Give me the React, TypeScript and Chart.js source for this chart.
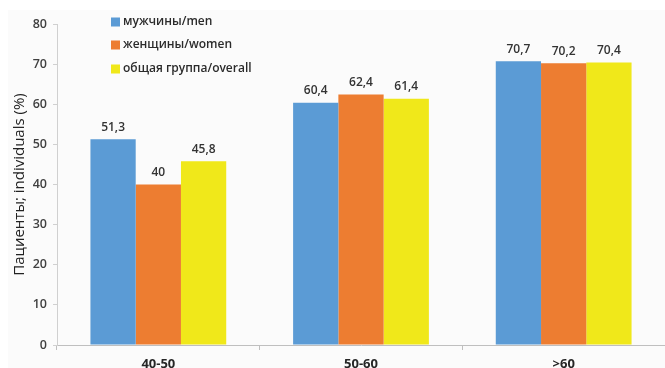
import React, { useEffect, useRef } from "react";
import { Chart, registerables } from "chart.js";

Chart.register(...registerables);

const categories = ["40-50", "50-60", ">60"];
const seriesNames = ["мужчины/men", "женщины/women", "общая группа/overall"];
const menValues = [51.3, 60.4, 70.7];
const womenValues = [40, 62.4, 70.2];
const overallValues = [45.8, 61.4, 70.4];
const seriesColors = ["#5b9bd5", "#ed7d31", "#f0e81a"];
const yTitle = "Пациенты; individuals (%)";

const FONT = "'Open Sans', 'DejaVu Sans', sans-serif";

const bgPlugin = {
  id: "bg",
  beforeDraw(chart: any) {
    const ctx = chart.ctx;
    ctx.save();
    ctx.fillStyle = "#fbfbfb";
    ctx.fillRect(8, 10, chart.width - 8, chart.height - 10);
    ctx.restore();
  },
};

const labelPlugin = {
  id: "valueLabels",
  afterDatasetsDraw(chart: any) {
    const ctx = chart.ctx;
    ctx.save();
    ctx.font = `600 12px ${FONT}`;
    ctx.fillStyle = "#333333";
    ctx.textAlign = "center";
    ctx.textBaseline = "middle";
    chart.data.datasets.forEach((ds: any, i: number) => {
      const meta = chart.getDatasetMeta(i);
      meta.data.forEach((bar: any, j: number) => {
        const v = ds.data[j];
        ctx.fillText(String(v).replace(".", ","), bar.x, bar.y - 12);
      });
    });
    ctx.restore();
  },
};

const legendPlugin = {
  id: "insideLegend",
  afterDraw(chart: any) {
    const ctx = chart.ctx;
    ctx.save();
    ctx.font = `600 12px ${FONT}`;
    ctx.textBaseline = "middle";
    ctx.textAlign = "left";
    const x0 = 111;
    const rows = [22, 45, 69];
    chart.data.datasets.forEach((ds: any, i: number) => {
      const y = rows[i];
      ctx.fillStyle = ds.backgroundColor;
      ctx.fillRect(x0, y - 4.5, 9, 9);
      ctx.fillStyle = "#2b2b2b";
      ctx.fillText(ds.label, x0 + 12, y);
    });
    ctx.restore();
  },
};

export default function App() {
  const ref = useRef<HTMLCanvasElement | null>(null);
  useEffect(() => {
    if (!ref.current) return;
    const chart = new Chart(ref.current, {
      type: "bar",
      data: {
        labels: categories,
        datasets: [menValues, womenValues, overallValues].map((d, i) => ({
          label: seriesNames[i],
          data: d,
          backgroundColor: seriesColors[i],
          borderWidth: 0,
          categoryPercentage: 0.67,
          barPercentage: 1.0,
        })),
      },
      options: {
        animation: false,
        responsive: false,
        maintainAspectRatio: false,
        layout: { padding: { top: 24, right: 0, left: 0, bottom: 0 } },
        plugins: {
          legend: { display: false },
          tooltip: { enabled: false },
        },
        scales: {
          x: {
            grid: {
              offset: true,
              drawOnChartArea: false,
              tickLength: 5,
              color: "#bfbfbf",
            },
            border: { color: "#bfbfbf" },
            ticks: {
              padding: 6,
              color: "#262626",
              font: { family: FONT, size: 13, weight: "bold" },
            },
            afterFit(scale: any) {
              scale.height = 23;
            },
          },
          y: {
            min: 0,
            max: 80,
            ticks: {
              stepSize: 10,
              padding: 6,
              color: "#404040",
              font: { family: FONT, size: 12.5, weight: "600" },
            },
            grid: {
              drawOnChartArea: false,
              tickLength: 4,
              color: "#d0d0d0",
            },
            border: { color: "#d0d0d0" },
            title: {
              display: true,
              text: yTitle,
              color: "#222222",
              font: { family: FONT, size: 15 },
              padding: { top: 11, bottom: 0 },
            },
            afterFit(scale: any) {
              scale.width = 57;
            },
          },
        },
      },
      plugins: [bgPlugin, labelPlugin, legendPlugin],
    });
    return () => chart.destroy();
  }, []);
  return (
    <div style={{ position: "absolute", left: 0, top: 0, width: 665, height: 368 }}>
      <canvas ref={ref} width={665} height={368} style={{ display: "block" }} />
    </div>
  );
}
